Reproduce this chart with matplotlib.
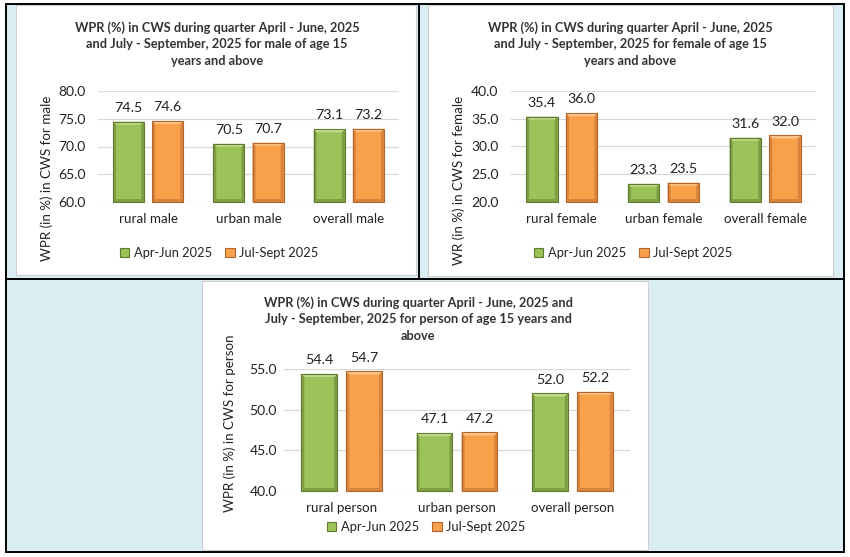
import numpy as np
import matplotlib.pyplot as plt
from matplotlib.patches import Rectangle, Polygon, Patch

plt.rcParams['font.family'] = ['Lato', 'DejaVu Sans']

### Data
series_names = ['Apr-Jun 2025', 'Jul-Sept 2025']

male_cats = ['rural male', 'urban male', 'overall male']
male_apr_jun = [74.5, 70.5, 73.1]
male_jul_sep = [74.6, 70.7, 73.2]
male_ticks = [60.0, 65.0, 70.0, 75.0, 80.0]

female_cats = ['rural female', 'urban female', 'overall female']
female_apr_jun = [35.4, 23.3, 31.6]
female_jul_sep = [36.0, 23.5, 32.0]
female_ticks = [20.0, 25.0, 30.0, 35.0, 40.0]

person_cats = ['rural person', 'urban person', 'overall person']
person_apr_jun = [54.4, 47.1, 52.0]
person_jul_sep = [54.7, 47.2, 52.2]
person_ticks = [40.0, 45.0, 50.0, 55.0]

male_title = 'WPR (%) in CWS during quarter April - June, 2025\nand July - September, 2025 for male of age 15\nyears and above'
female_title = 'WPR (%) in CWS during quarter April - June, 2025\nand July - September, 2025 for female of age 15\nyears and above'
person_title = 'WPR (%) in CWS during quarter April - June, 2025 and\nJuly - September, 2025 for person of age 15 years and\nabove'

### Styles
GREEN = dict(face='#9cc35a', light='#c2dc8e', dark='#7f9f45', edge='#5f7a30')
ORANGE = dict(face='#f9a04b', light='#fcc58c', dark='#d9843c', edge='#b0662a')
BLUE_BG = '#daedf3'
GRID = '#d9d9d9'
TXT = '#222222'
FS = 10

W, H = 850, 557
fig = plt.figure(figsize=(W / 100, H / 100), dpi=100)


def box(x0, y0, x1, y1):
    # pixel box (top origin) -> figure fraction [l, b, w, h]
    return [x0 / W, 1 - y1 / H, (x1 - x0) / W, (y1 - y0) / H]


def fig_rect(x0, y0, x1, y1, **kw):
    l, b, w, h = box(x0, y0, x1, y1)
    fig.patches.append(Rectangle((l, b), w, h, transform=fig.transFigure, **kw))


def fig_line(xs, ys, **kw):
    fig.add_artist(plt.Line2D([x / W for x in xs], [1 - y / H for y in ys],
                              transform=fig.transFigure, **kw))


### Background frames
fig_rect(7, 5, 843, 551, facecolor=BLUE_BG, edgecolor='none', zorder=-3)
fig_rect(16, 5, 416, 275, facecolor='white', edgecolor='#cfcfcf', lw=0.8, zorder=-2)
fig_rect(428, 5, 833, 276, facecolor='white', edgecolor='#cfcfcf', lw=0.8, zorder=-2)
fig_rect(202, 281, 648, 550, facecolor='white', edgecolor='#cfcfcf', lw=0.8, zorder=-2)
fig_rect(6, 4, 844, 552, facecolor='none', edgecolor='black', lw=1.4, zorder=5)
fig_line([419, 419], [4, 279], color='black', lw=1.4, zorder=5)
fig_line([6, 844], [279, 279], color='black', lw=1.4, zorder=5)


def bevel_bars(ax, bars, c):
    inv = ax.transData.inverted()
    d = 3.0
    for b in bars:
        x0, y0 = b.get_x(), b.get_y()
        x1, y1 = x0 + b.get_width(), y0 + b.get_height()
        a, bb = ax.transData.transform((x0, y0))
        cc, dd = ax.transData.transform((x1, y1))
        top = [(a, dd), (cc, dd), (cc - d, dd - d), (a + d, dd - d)]
        bot = [(a, bb), (cc, bb), (cc - d, bb + d), (a + d, bb + d)]
        left = [(a, bb), (a, dd), (a + d, dd - d), (a + d, bb + d)]
        right = [(cc, bb), (cc, dd), (cc - d, dd - d), (cc - d, bb + d)]
        for pts, col in [(left, c['dark']), (right, c['dark']), (bot, c['dark']), (top, c['light'])]:
            ax.add_patch(Polygon(inv.transform(pts), closed=True, facecolor=col,
                                 edgecolor='none', zorder=3, clip_on=False))
        ax.add_patch(Rectangle((x0, y0), x1 - x0, y1 - y0, facecolor='none',
                               edgecolor=c['edge'], lw=0.8, zorder=4, clip_on=False))


def draw_chart(pos, cats, s1, s2, ticks, title, title_xy, ylabel, ylabel_xy, legend_xy, ypad):
    ax = fig.add_axes(box(*pos))
    ax.set_zorder(1)
    ax.set_facecolor('none')
    lo, hi = ticks[0], ticks[-1]
    x = np.arange(len(cats))
    width, off = 0.31, 0.195
    ax.set_xlim(-0.5, len(cats) - 0.5)
    ax.set_ylim(lo, hi)
    b1 = ax.bar(x - off, np.array(s1) - lo, width, bottom=lo, color=GREEN['face'], zorder=2)
    b2 = ax.bar(x + off, np.array(s2) - lo, width, bottom=lo, color=ORANGE['face'], zorder=2)
    bevel_bars(ax, b1, GREEN)
    bevel_bars(ax, b2, ORANGE)
    for xs, vals in [(x - off, s1), (x + off, s2)]:
        for xi, v in zip(xs, vals):
            ax.annotate(f'{v:.1f}', (xi, v), xytext=(0, 10), textcoords='offset points',
                        ha='center', va='center', fontsize=10.3, color=TXT, annotation_clip=False)
    ax.set_yticks(ticks, [f'{t:.1f}' for t in ticks])
    ax.set_xticks(x, cats)
    ax.tick_params(axis='y', length=0, pad=ypad, labelsize=FS, labelcolor=TXT)
    ax.tick_params(axis='x', length=0, pad=8, labelsize=9.6, labelcolor=TXT)
    ax.yaxis.grid(True, color=GRID, lw=0.9)
    ax.set_axisbelow(True)
    for s in ax.spines.values():
        s.set_visible(False)
    fig.text(title_xy[0] / W, 1 - title_xy[1] / H, title, ha='center', va='center',
             fontsize=9.2, fontweight='bold', color='#333333', linespacing=1.45)
    fig.text(ylabel_xy[0] / W, 1 - ylabel_xy[1] / H, ylabel, ha='center', va='center',
             rotation=90, fontsize=9.6, color=TXT)
    handles = [Patch(facecolor=GREEN['face'], edgecolor=GREEN['edge'], lw=0.8),
               Patch(facecolor=ORANGE['face'], edgecolor=ORANGE['edge'], lw=0.8)]
    ax.legend(handles, series_names, loc='center', ncol=2, frameon=False,
              bbox_to_anchor=(legend_xy[0] / W, 1 - legend_xy[1] / H),
              bbox_transform=fig.transFigure, fontsize=9.3, handlelength=0.75,
              handleheight=0.75, handletextpad=0.35, columnspacing=1.0,
              labelcolor=TXT)
    return ax


### Male chart (top left)
draw_chart((98, 91, 399, 202), male_cats, male_apr_jun, male_jul_sep, male_ticks,
           male_title, (217, 44), 'WPR (in %) in CWS for male', (47, 178), (219, 253), 9)

### Female chart (top right)
draw_chart((511, 91, 816, 202), female_cats, female_apr_jun, female_jul_sep, female_ticks,
           female_title, (630, 44), 'WR (in %) in CWS for female', (459, 180), (633, 253), 9)

### Person chart (bottom)
draw_chart((284, 369, 630, 491), person_cats, person_apr_jun, person_jul_sep, person_ticks,
           person_title, (418, 319), 'WPR (in %) in CWS for person', (230, 423), (426, 527), 5)

fig.savefig('out.png', dpi=100, facecolor='white')
